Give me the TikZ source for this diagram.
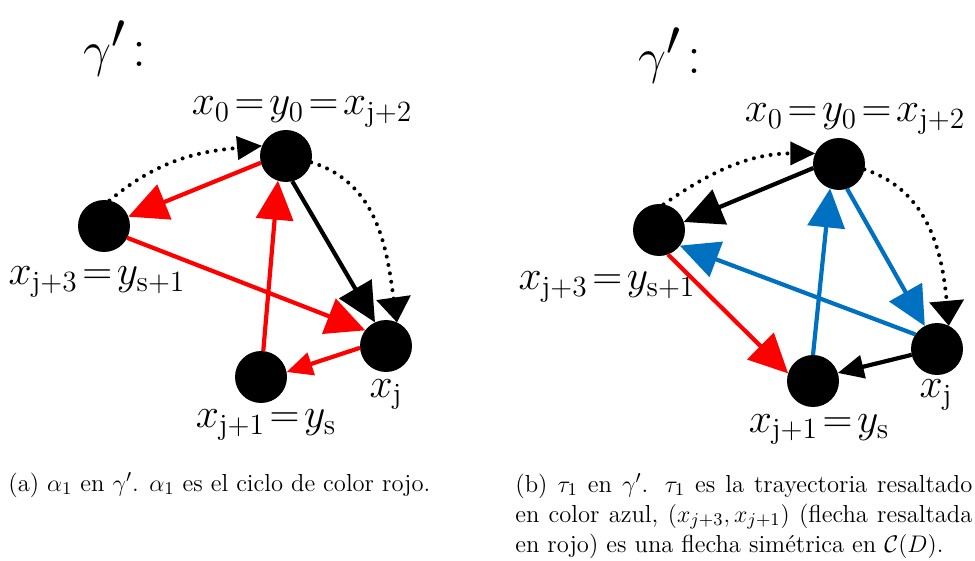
\documentclass[tikz,border=0pt]{standalone}
\usepackage{fontspec}
\usepackage{amsmath}
\usetikzlibrary{arrows.meta}
\definecolor{myred}{RGB}{255,0,0}
\definecolor{myblue}{RGB}{0,112,192}
\begin{document}
\begin{tikzpicture}[x=0.5pt,y=0.5pt,
  vtx/.style={circle,fill=black,minimum size=26pt,inner sep=0pt,outer sep=0pt},
  lab/.style={inner sep=0pt,anchor=base,font=\fontsize{21}{25}\selectfont},
  conn/.style={line width=2.1pt},
  bigtip/.style={-{Triangle[length=19.5pt,width=18.5pt]}},
  smalltip/.style={-{Triangle[length=13pt,width=11.5pt]}},
  dotline/.style={line width=2pt,dash pattern=on 0pt off 4.25pt,line cap=round},
  narrowtip/.style={-{Triangle[length=12.5pt,width=11.5pt]}},
  widetip/.style={-{Triangle[length=12.5pt,width=17pt]}},
  gam/.style={inner sep=0pt,anchor=base west},
  captxt/.style={inner sep=0pt,font=\fontsize{12.3}{15}\selectfont}
]
\useasboundingbox (0,0) rectangle (975,-561);

% ---------- left diagram ----------
\node[gam] (g1) at (83,-67) {\fontsize{46}{52}\selectfont$\gamma'$\hspace{3pt}{\fontsize{28}{30}\selectfont :}};

\node[vtx] (A) at (286,-156) {};
\node[vtx] (B) at (104,-226) {};
\node[vtx] (C) at (386,-346) {};
\node[vtx] (D) at (261,-377) {};

\node[lab] (lA) at (302,-115) {$\thickmuskip=2mu\relax x_0=y_0=x_{\mathrm{j+2}}$};
\node[lab] (lB) at (97,-285) {$\thickmuskip=2mu\relax x_{\mathrm{j+3}}=y_{\mathrm{s+1}}$};
\node[lab] (lC) at (386,-397) {$x_{\mathrm{j}}$};
\node[lab] (lD) at (266,-428) {$\thickmuskip=2mu\relax x_{\mathrm{j+1}}=y_{\mathrm{s}}$};

\draw[conn,myred,bigtip] (A.195) -- (B.21);
\draw[conn,myred,bigtip] (B.-27) -- (C.143);
\draw[conn,myred,bigtip] (D.85) -- (A.-108);
\draw[conn,myred,smalltip] (C.184) -- (D.11);
\draw[conn,black,bigtip] (A.-76) -- (C.115);
\draw[dotline,narrowtip] (B.78) to[out=40,in=185] (A.157);
\draw[dotline,widetip] (A.-14) to[out=-17,in=98] (C.65);

% ---------- right diagram ----------
\node[gam] (g2) at (638,-74) {\fontsize{46}{52}\selectfont$\gamma'$\hspace{3pt}{\fontsize{28}{30}\selectfont :}};

\node[vtx] (A2) at (839,-164) {};
\node[vtx] (B2) at (659,-230) {};
\node[vtx] (C2) at (937,-349) {};
\node[vtx] (D2) at (813,-381) {};

\node[lab] (lA2) at (855,-122) {$\thickmuskip=2mu\relax x_0=y_0=x_{\mathrm{j+2}}$};
\node[lab] (lB2) at (607,-290) {$\thickmuskip=2mu\relax x_{\mathrm{j+3}}=y_{\mathrm{s+1}}$};
\node[lab] (lC2) at (936,-398) {$x_{\mathrm{j}}$};
\node[lab] (lD2) at (819,-432) {$\thickmuskip=2mu\relax x_{\mathrm{j+1}}=y_{\mathrm{s}}$};

\draw[conn,black,bigtip] (A2.189) -- (B2.18);
\draw[conn,myblue,bigtip] (C2.146) -- (B2.-37);
\draw[conn,myblue,bigtip] (D2.90) -- (A2.-110);
\draw[conn,myblue,bigtip] (A2.-72) -- (C2.118);
\draw[conn,myred,bigtip] (B2.-70) -- (D2.163);
\draw[conn,black,smalltip] (C2.193) -- (D2.18);
\draw[dotline,narrowtip] (B2.80) to[out=35,in=180] (A2.156);
\draw[dotline,widetip] (A2.-12) to[out=-18,in=95] (C2.63);

% ---------- captions ----------
\node[captxt,anchor=base west] (capa) at (8,-491) {(a) $\alpha_1$ en $\gamma'$. $\alpha_1$ es el ciclo de color rojo.};
\node[captxt,anchor=north west,text width=228.5pt,align=justify] (capb) at (515,-473)
  {(b) $\tau_1$ en $\gamma'$. $\tau_1$ es la trayectoria resaltado\linebreak en color azul, $(x_{j+3},x_{j+1})$ (flecha resaltada\linebreak en rojo) es una flecha simétrica en $\mathcal{C}(D)$.};
\end{tikzpicture}
\end{document}
